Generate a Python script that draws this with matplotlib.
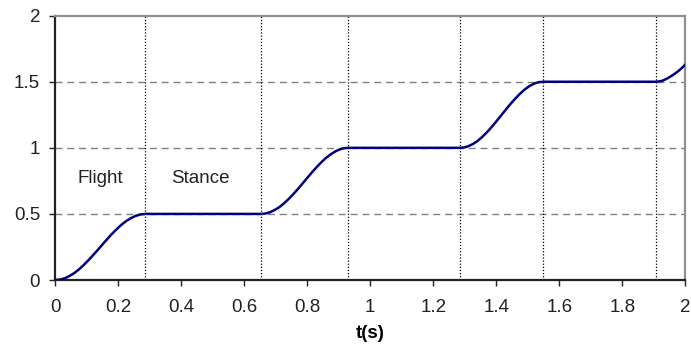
import numpy as np
import matplotlib
matplotlib.use("Agg")
import matplotlib.pyplot as plt
from matplotlib.ticker import FuncFormatter

plt.rcParams["font.family"] = ["Liberation Sans", "DejaVu Sans"]

# ---- curve (time in s, height)
t_vals = [0.0, 0.015, 0.03, 0.045, 0.06, 0.075, 0.09, 0.105, 0.12, 0.135, 0.15,
          0.165, 0.18, 0.195, 0.21, 0.225, 0.24, 0.255, 0.27, 0.286,
          0.654, 0.667, 0.68, 0.695, 0.71, 0.725, 0.74, 0.755, 0.77, 0.785, 0.80,
          0.815, 0.83, 0.845, 0.86, 0.875, 0.89, 0.90, 0.91, 0.92, 0.93,
          1.285, 1.298, 1.31, 1.325, 1.34, 1.355, 1.37, 1.385, 1.40, 1.415, 1.43,
          1.445, 1.46, 1.475, 1.49, 1.505, 1.52, 1.535, 1.549,
          1.906, 1.918, 1.93, 1.945, 1.96, 1.97, 1.98, 1.99, 2.0]
y_vals = [0.0, 0.003, 0.013, 0.030, 0.052, 0.080, 0.113, 0.149, 0.188, 0.228, 0.269,
          0.310, 0.349, 0.385, 0.418, 0.446, 0.468, 0.485, 0.496, 0.5,
          0.5, 0.503, 0.511, 0.528, 0.549, 0.578, 0.611, 0.648, 0.688, 0.730, 0.773,
          0.815, 0.855, 0.892, 0.925, 0.952, 0.974, 0.985, 0.994, 0.998, 1.0,
          1.0, 1.003, 1.011, 1.028, 1.051, 1.082, 1.117, 1.157, 1.2, 1.244, 1.289,
          1.332, 1.372, 1.409, 1.441, 1.467, 1.486, 1.497, 1.5,
          1.5, 1.503, 1.51, 1.528, 1.55, 1.567, 1.585, 1.607, 1.63]

# phase boundaries (dotted lines)
phase_lines = [0.286, 0.654, 0.930, 1.285, 1.549, 1.906]
grid_levels = [0.5, 1.0, 1.5]
x_ticks = [0, 0.2, 0.4, 0.6, 0.8, 1.0, 1.2, 1.4, 1.6, 1.8, 2.0]
y_ticks = [0, 0.5, 1.0, 1.5, 2.0]
phase_labels = [("Flight", 0.142, 0.77), ("Stance", 0.459, 0.77)]

fig = plt.figure(figsize=(6.91, 3.48), dpi=100)
ax = fig.add_axes([0.080, 0.1954, 0.9118, 0.7596])

for lv in grid_levels:
    ax.axhline(lv, color="#808080", lw=1.0, dashes=(5, 3.5), zorder=1)
for xv in phase_lines:
    ax.axvline(xv, color="black", lw=0.9, linestyle=(0, (1, 1.5)), zorder=1)

ax.plot(t_vals, y_vals, color="#000080", lw=1.8, zorder=3)

for txt, xx, yy in phase_labels:
    ax.text(xx, yy, txt, ha="center", va="center", fontsize=13.5, color="#222222")

ax.set_xlim(0, 2)
ax.set_ylim(0, 2)
ax.set_xticks(x_ticks)
ax.set_yticks(y_ticks)
fmt = FuncFormatter(lambda v, p: f"{v:g}")
ax.xaxis.set_major_formatter(fmt)
ax.yaxis.set_major_formatter(fmt)
ax.tick_params(axis="both", direction="out", length=4, width=1, labelsize=13.5,
               colors="#222222")
ax.tick_params(axis="x", pad=10)
ax.tick_params(axis="y", pad=7)

ax.spines["left"].set_color("#222222")
ax.spines["bottom"].set_color("#222222")
ax.spines["top"].set_color("#909090")
ax.spines["right"].set_color("#909090")
for s in ax.spines.values():
    s.set_linewidth(1.6)

ax.set_xlabel("t(s)", fontsize=13.5, fontweight="bold", labelpad=6)

fig.savefig("out.png", dpi=100)
